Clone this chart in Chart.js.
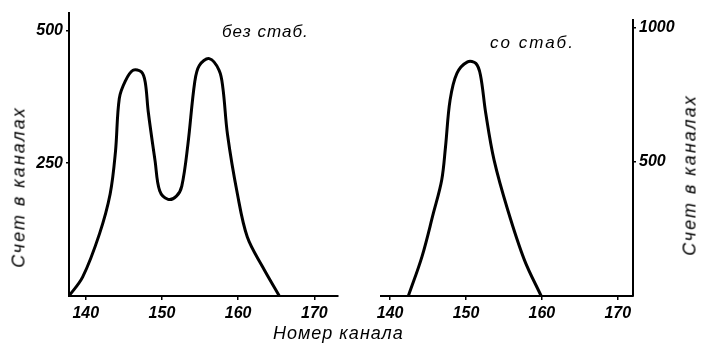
<!DOCTYPE html>
<html>
<head>
<meta charset="utf-8">
<script src="https://cdn.jsdelivr.net/npm/chart.js@4"></script>
<style>
  body { margin: 0; background: #fff; }
  #wrap { position: relative; width: 701px; height: 347px; overflow: hidden; }
  #wrap canvas { position: absolute; left: 0; top: 0; }
  .txt { position: absolute; font-family: 'Liberation Sans', sans-serif; font-style: italic; color: #000; white-space: nowrap; }
  .ylab { transform: translate(-50%, -50%) rotate(-90deg); font-size: 18px; letter-spacing: 2px; }
</style>
</head>
<body>
<div id="wrap">
  <canvas id="left" width="701" height="347"></canvas>
  <canvas id="right" width="701" height="347"></canvas>
  <div class="txt ylab" style="left:19px; top:187px;">Счет в каналах</div>
  <div class="txt ylab" style="left:690px; top:175px;">Счет в каналах</div>
  <div class="txt" style="left:273px; top:323px; font-size:18px; letter-spacing:1px;">Номер канала</div>
  <div class="txt" style="left:222px; top:22px; font-size:17px; letter-spacing:1px;">без стаб.</div>
  <div class="txt" style="left:490px; top:33px; font-size:17px; letter-spacing:2px;">со стаб.</div>
</div>
<script>
// без стабилизации
var channelsA = [137.8, 139.6, 141.8, 143.2, 143.9, 144.4, 145.2, 146.2, 147.3, 147.8, 148.2, 149.1, 149.7, 150.8, 151.9, 152.6, 153.4, 154.3, 154.9, 156.2, 157.5, 158.0, 158.6, 159.9, 161.2, 163.2, 165.4];
var countsA   = [0, 36, 117, 192, 272, 372, 405, 425, 422, 403, 347, 254, 198, 182, 188, 207, 285, 403, 434, 447, 425, 391, 304, 192, 111, 55, 0];
// со стабилизацией
var channelsB = [142.4, 144.2, 145.7, 146.8, 147.3, 147.9, 148.8, 150.2, 151.3, 151.9, 152.6, 153.7, 155.5, 157.7, 159.9];
var countsB   = [0, 147, 309, 433, 557, 731, 831, 874, 868, 825, 682, 507, 321, 134, 0];

var xTicks  = [140, 150, 160, 170];
var yTicksA = [250, 500];
var yTicksB = [500, 1000];

var tickFont = { family: 'Liberation Sans', size: 16, style: 'italic', weight: 'bold' };

function toPoints(xs, ys) {
  return xs.map(function (x, i) { return { x: x, y: ys[i] }; });
}

function setTicks(list) {
  return function (scale) {
    scale.ticks = list.map(function (v) { return { value: v }; });
  };
}

function makeChart(id, xs, ys, opt) {
  return new Chart(document.getElementById(id), {
    type: 'line',
    data: {
      datasets: [{
        data: toPoints(xs, ys),
        borderColor: '#000',
        borderWidth: 3,
        pointRadius: 0,
        fill: false,
        tension: 0.35
      }]
    },
    options: {
      responsive: false,
      animation: false,
      layout: { padding: opt.padding },
      plugins: { legend: { display: false }, tooltip: { enabled: false } },
      scales: {
        x: {
          type: 'linear',
          min: opt.xmin,
          max: opt.xmax,
          afterBuildTicks: setTicks(xTicks),
          afterFit: function (s) { s.height = 51; },
          border: { color: '#000', width: 2 },
          grid: { drawOnChartArea: false, color: '#000', tickLength: 4, lineWidth: 1.5 },
          ticks: { color: '#000', font: tickFont, padding: 4, maxRotation: 0,
                   callback: function (v) { return String(v); } }
        },
        y: {
          position: opt.ypos,
          min: 0,
          max: opt.ymax,
          afterBuildTicks: setTicks(opt.yticks),
          afterFit: function (s) { s.width = opt.ywidth; },
          border: { color: '#000', width: 2 },
          grid: { drawOnChartArea: false, color: '#000', tickLength: 3, lineWidth: 1.5 },
          ticks: { color: '#000', font: tickFont, padding: 3,
                   callback: function (v) { return String(v); } }
        }
      }
    }
  });
}

makeChart('left', channelsA, countsA, {
  padding: { left: 0, right: 363, top: 10, bottom: 0 },
  xmin: 137.8, xmax: 173.1, ymax: 533.6, ypos: 'left', yticks: yTicksA, ywidth: 69
});

makeChart('right', channelsB, countsB, {
  padding: { left: 381, right: 0, top: 20, bottom: 0 },
  xmin: 138.8, xmax: 172.0, ymax: 1030, ypos: 'right', yticks: yTicksB, ywidth: 68
});
</script>
</body>
</html>
